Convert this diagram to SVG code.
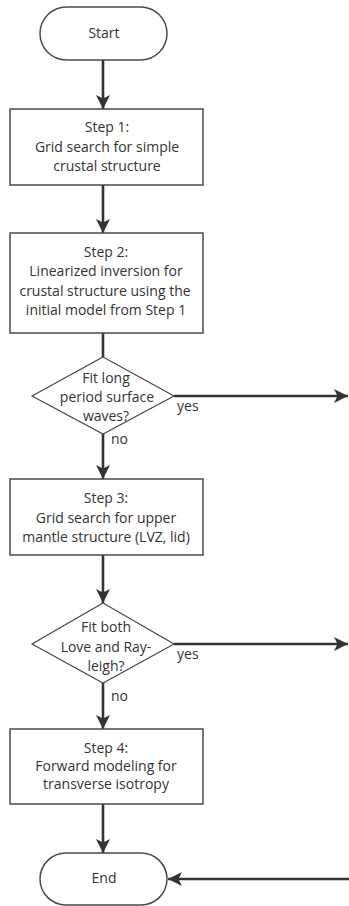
<svg xmlns="http://www.w3.org/2000/svg" width="349" height="906" viewBox="0 0 349 906">
<defs>
<style>
.box{fill:#fff;stroke:#4a4a4a;stroke-width:1.5}
.dia{fill:#fff;stroke:#4a4a4a;stroke-width:1.2}
.t{font-family:"Open Sans","Noto Sans",sans-serif;font-size:14px;fill:#333;text-anchor:middle}
.lbl{font-family:"Open Sans","Noto Sans",sans-serif;font-size:14px;fill:#333}
.c{stroke:#333;stroke-width:2.6;fill:none;marker-end:url(#ah)}
.cn{stroke:#333;stroke-width:2.6;fill:none}
</style>
<marker id="ah" markerUnits="userSpaceOnUse" markerWidth="16" markerHeight="16" refX="14" refY="7" orient="auto">
<path d="M0,0 L14,7 L0,14 L3.5,7 z" fill="#333"/>
</marker>
</defs>
<rect width="349" height="906" fill="#fff"/>
<g id="connectors">
<line class="c" x1="103" y1="60" x2="103" y2="109"/>
<line class="c" x1="103" y1="185" x2="103" y2="233"/>
<line class="cn" x1="103" y1="333" x2="103" y2="357"/>
<line class="c" x1="174" y1="396" x2="348" y2="396"/>
<line class="c" x1="103" y1="434" x2="103" y2="479"/>
<line class="c" x1="103" y1="555" x2="103" y2="603"/>
<line class="c" x1="174" y1="644" x2="348" y2="644"/>
<line class="c" x1="103" y1="683" x2="103" y2="729"/>
<line class="c" x1="103" y1="804" x2="103" y2="853"/>
<line class="c" x1="349" y1="879" x2="168" y2="879"/>
<text class="lbl" x="177" y="411">yes</text>
<text class="lbl" x="111" y="444">no</text>
<text class="lbl" x="177" y="659">yes</text>
<text class="lbl" x="111" y="701">no</text>
</g>
<g id="start">
<rect class="box" x="40" y="7" width="127" height="53" rx="26.5" stroke-width="1.2"/>
<text class="t" x="104" y="38">Start</text>
</g>
<g id="step1">
<rect class="box" x="10" y="109" width="193" height="76"/>
<text class="t" x="107" y="132">Step 1:</text>
<text class="t" x="107" y="152">Grid search for simple</text>
<text class="t" x="107" y="171">crustal structure</text>
</g>
<g id="step2">
<rect class="box" x="10" y="233" width="193" height="100"/>
<text class="t" x="106" y="257">Step 2:</text>
<text class="t" x="106" y="276">Linearized inversion for</text>
<text class="t" x="105" y="296">crustal structure using the</text>
<text class="t" x="106" y="315">initial model from Step 1</text>
</g>
<g id="decision1">
<polygon class="dia" points="103,357 174,396 103,434 32,396"/>
<text class="t" x="106" y="383">Fit long</text>
<text class="t" x="107" y="402">period surface</text>
<text class="t" x="106" y="421">waves?</text>
</g>
<g id="step3">
<rect class="box" x="10" y="479" width="193" height="76"/>
<text class="t" x="106" y="503">Step 3:</text>
<text class="t" x="106" y="523">Grid search for upper</text>
<text class="t" x="106" y="542">mantle structure (LVZ, lid)</text>
</g>
<g id="decision2">
<polygon class="dia" points="103,603 174,644 103,683 32,644"/>
<text class="t" x="106" y="632">Fit both</text>
<text class="t" x="106" y="652">Love and Ray-</text>
<text class="t" x="106" y="671">leigh?</text>
</g>
<g id="step4">
<rect class="box" x="10" y="729" width="193" height="75"/>
<text class="t" x="106" y="753">Step 4:</text>
<text class="t" x="106" y="771">Forward modeling for</text>
<text class="t" x="106" y="789">transverse isotropy</text>
</g>
<g id="end">
<rect class="box" x="40" y="853" width="127" height="52" rx="26" stroke-width="1.2"/>
<text class="t" x="104" y="883">End</text>
</g>
</svg>
